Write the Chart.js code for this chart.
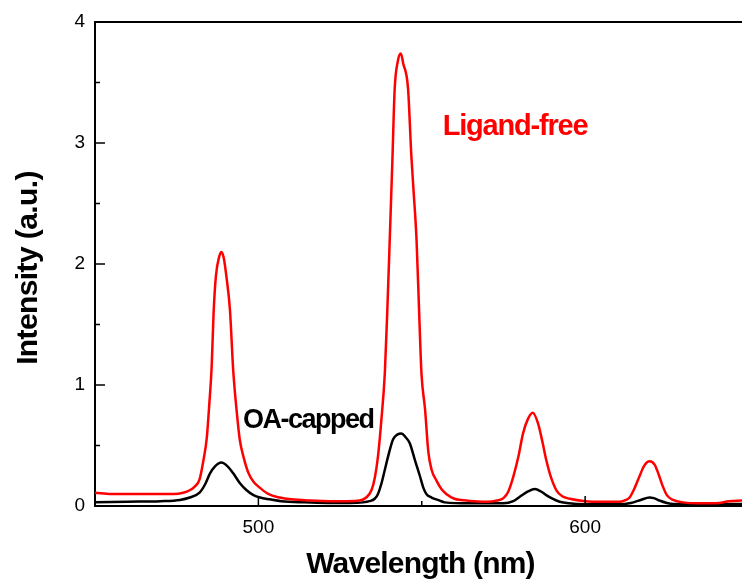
<!DOCTYPE html>
<html>
<head>
<meta charset="utf-8">
<script src="https://cdn.jsdelivr.net/npm/chart.js@4/dist/chart.umd.min.js"></script>
<style>
    body { margin: 0; background: #fff; }
    #wrap { width: 742px; height: 583px; }
</style>
</head>
<body>
<div id="wrap"><canvas id="chart" width="742" height="583"></canvas></div>
<script>
// Ligand-free spectrum (red)
const redWavelength = [450, 455, 460, 465, 470, 474, 477, 479, 480.5, 482, 483.2, 484.2, 485, 485.7, 486.3, 487, 488, 488.7, 489.4, 490.2, 491.3, 492.3, 493.3, 494.3, 495.5, 497, 498.5, 500.5, 503, 506.5, 510, 516, 522, 527, 531, 533, 534.6, 535.6, 536.6, 537.6, 538.7, 539.5, 540.2, 541, 541.7, 542.7, 543.6, 544.3, 545.8, 546.8, 547.5, 548.4, 549.2, 549.9, 551, 552, 553, 554.5, 556, 557.5, 560, 562, 566, 570, 573, 575, 576.5, 578, 579.5, 581, 582.5, 584, 585.6, 587, 588.1, 589.5, 591.2, 593, 595.3, 600, 605, 610.6, 612.5, 613.6, 615, 616.7, 618, 619.7, 621.3, 622.5, 623.8, 625, 626.9, 630, 636, 641, 644, 648];
const redIntensity = [0.11, 0.10, 0.10, 0.10, 0.10, 0.10, 0.11, 0.13, 0.16, 0.22, 0.38, 0.56, 0.85, 1.15, 1.60, 1.90, 2.06, 2.10, 2.05, 1.90, 1.62, 1.12, 0.80, 0.55, 0.40, 0.27, 0.20, 0.15, 0.10, 0.07, 0.055, 0.045, 0.04, 0.04, 0.045, 0.07, 0.13, 0.23, 0.41, 0.70, 1.10, 1.65, 2.20, 2.85, 3.44, 3.68, 3.74, 3.66, 3.45, 2.90, 2.60, 2.20, 1.60, 1.10, 0.80, 0.45, 0.30, 0.21, 0.14, 0.10, 0.06, 0.05, 0.04, 0.035, 0.045, 0.065, 0.12, 0.24, 0.40, 0.60, 0.72, 0.77, 0.68, 0.52, 0.38, 0.24, 0.13, 0.08, 0.06, 0.04, 0.035, 0.035, 0.05, 0.07, 0.14, 0.25, 0.33, 0.37, 0.34, 0.26, 0.16, 0.09, 0.05, 0.03, 0.022, 0.025, 0.04, 0.045];

// OA-capped spectrum (black)
const blackWavelength = [450, 460, 470, 476, 479, 482, 483.7, 485.2, 486.8, 488.7, 490.5, 492.3, 494.3, 496.4, 498.5, 500.5, 503.5, 507, 514, 521, 528, 532, 534, 535.6, 536.6, 537.7, 538.7, 539.7, 541.2, 542.5, 543.8, 545, 546.3, 547.9, 549.4, 550.5, 551.4, 553, 555.5, 557, 564.7, 575, 578, 580, 582.5, 584.6, 586.5, 588.1, 590, 592.2, 595, 600, 610, 614, 617, 619.7, 621, 622.8, 625, 627, 640, 648];
const blackIntensity = [0.03, 0.035, 0.04, 0.05, 0.07, 0.11, 0.18, 0.27, 0.33, 0.36, 0.33, 0.27, 0.19, 0.13, 0.09, 0.07, 0.055, 0.04, 0.03, 0.025, 0.025, 0.03, 0.04, 0.06, 0.10, 0.19, 0.30, 0.41, 0.55, 0.59, 0.60, 0.57, 0.52, 0.38, 0.25, 0.15, 0.10, 0.07, 0.045, 0.03, 0.022, 0.022, 0.04, 0.077, 0.12, 0.14, 0.12, 0.09, 0.06, 0.035, 0.022, 0.015, 0.015, 0.025, 0.05, 0.07, 0.065, 0.045, 0.025, 0.016, 0.015, 0.016];

const xTickValues = [500, 600];
const xMinorTicks = [450, 550, 650];
const yTickValues = [0, 1, 2, 3, 4];
const yMinorTicks = [0.5, 1.5, 2.5, 3.5];

const xTitle = 'Wavelength (nm)';
const yTitle = 'Intensity (a.u.)';
const labelLigand = 'Ligand-free';
const labelOA = 'OA-capped';

const FONT = "'Liberation Sans', Arial, Helvetica, sans-serif";

function toPoints(xs, ys) {
    return xs.map((x, i) => ({ x: x, y: ys[i] }));
}

// inner ticks, top frame line, axis titles and curve labels
const decorations = {
    id: 'decorations',
    afterDraw(chart) {
        const ctx = chart.ctx;
        const xs = chart.scales.x;
        const ys = chart.scales.y;
        const area = chart.chartArea;
        ctx.save();
        ctx.strokeStyle = '#000';
        ctx.lineWidth = 2;
        ctx.beginPath();
        ctx.moveTo(area.left, area.top);
        ctx.lineTo(chart.width, area.top);
        ctx.stroke();

        ctx.lineWidth = 1.5;
        ctx.beginPath();
        yTickValues.forEach(v => {
            const py = ys.getPixelForValue(v);
            ctx.moveTo(area.left, py);
            ctx.lineTo(area.left + 10, py);
        });
        yMinorTicks.forEach(v => {
            const py = ys.getPixelForValue(v);
            ctx.moveTo(area.left, py);
            ctx.lineTo(area.left + 5, py);
        });
        xTickValues.forEach(v => {
            const px = xs.getPixelForValue(v);
            ctx.moveTo(px, area.bottom);
            ctx.lineTo(px, area.bottom - 10);
        });
        xMinorTicks.forEach(v => {
            const px = xs.getPixelForValue(v);
            if (px > area.left && px < chart.width) {
                ctx.moveTo(px, area.bottom);
                ctx.lineTo(px, area.bottom - 5);
            }
        });
        ctx.stroke();

        ctx.fillStyle = '#000';
        ctx.font = 'bold 30px ' + FONT;
        ctx.textBaseline = 'alphabetic';
        ctx.textAlign = 'center';
        ctx.letterSpacing = '-0.8px';
        ctx.fillText(xTitle, (area.left + area.right) / 2 + 2, 573);

        ctx.save();
        ctx.translate(37, (area.top + area.bottom) / 2 + 4);
        ctx.rotate(-Math.PI / 2);
        ctx.letterSpacing = '-0.6px';
        ctx.fillText(yTitle, 0, 0);
        ctx.restore();

        ctx.textAlign = 'left';
        ctx.font = 'bold 29px ' + FONT;
        ctx.letterSpacing = '-1.2px';
        ctx.fillStyle = '#ff0000';
        ctx.fillText(labelLigand, xs.getPixelForValue(556.4), ys.getPixelForValue(3.066));

        ctx.font = 'bold 27px ' + FONT;
        ctx.letterSpacing = '-1.5px';
        ctx.fillStyle = '#000';
        ctx.fillText(labelOA, xs.getPixelForValue(495.3), ys.getPixelForValue(0.645));
        ctx.restore();
    }
};

new Chart(document.getElementById('chart'), {
    type: 'line',
    data: {
        datasets: [{
            label: labelLigand,
            data: toPoints(redWavelength, redIntensity),
            borderColor: '#ff0000',
            borderWidth: 2.5,
            pointRadius: 0,
            cubicInterpolationMode: 'monotone'
        }, {
            label: labelOA,
            data: toPoints(blackWavelength, blackIntensity),
            borderColor: '#000000',
            borderWidth: 2.5,
            pointRadius: 0,
            cubicInterpolationMode: 'monotone'
        }]
    },
    options: {
        responsive: false,
        animation: false,
        layout: { padding: { top: 22, right: 0, left: 0, bottom: 0 } },
        plugins: {
            legend: { display: false },
            tooltip: { enabled: false }
        },
        scales: {
            x: {
                type: 'linear',
                min: 450,
                max: 648,
                afterFit(scale) { scale.height = 77; },
                afterBuildTicks(scale) { scale.ticks = xTickValues.map(v => ({ value: v })); },
                grid: { display: false, drawTicks: false },
                border: { display: true, color: '#000', width: 2 },
                ticks: {
                    padding: 10,
                    color: '#000',
                    font: { family: FONT, size: 19 },
                    maxRotation: 0,
                    callback: v => String(v)
                }
            },
            y: {
                min: 0,
                max: 4,
                afterFit(scale) { scale.width = 95; },
                afterBuildTicks(scale) { scale.ticks = yTickValues.map(v => ({ value: v })); },
                grid: { display: false, drawTicks: false },
                border: { display: true, color: '#000', width: 2 },
                ticks: {
                    padding: 10,
                    color: '#000',
                    font: { family: FONT, size: 19 },
                    callback: v => String(v)
                }
            }
        }
    },
    plugins: [decorations]
});
</script>
</body>
</html>
